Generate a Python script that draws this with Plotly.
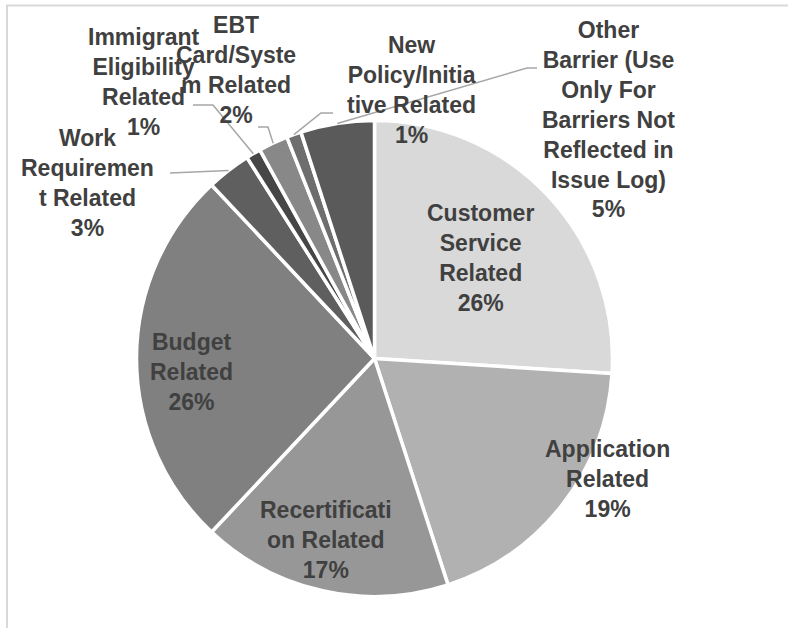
import math
import plotly.graph_objects as go

# Barrier categories (wrapped the way they are shown on the chart) and their shares
categories = [
    "Customer Service Related",
    "Application Related",
    "Recertification Related",
    "Budget Related",
    "Work Requirement Related",
    "Immigrant Eligibility Related",
    "EBT Card/System Related",
    "New Policy/Initiative Related",
    "Other Barrier (Use Only For Barriers Not Reflected in Issue Log)",
]
wrapped_labels = [
    "Customer<br>Service<br>Related",
    "Application<br>Related",
    "Recertificati<br>on Related",
    "Budget<br>Related",
    "Work<br>Requiremen<br>t Related",
    "Immigrant<br>Eligibility<br>Related",
    "EBT<br>Card/Syste<br>m Related",
    "New<br>Policy/Initia<br>tive Related",
    "Other<br>Barrier (Use<br>Only For<br>Barriers Not<br>Reflected in<br>Issue Log)",
]
shares = [26, 19, 17, 26, 3, 1, 2, 1, 5]

slice_colors = ["#d9d9d9", "#b1b1b1", "#979797", "#808080", "#5f5f5f",
                "#464646", "#888888", "#6e6e6e", "#5a5a5a"]

W, H = 788, 628
CX, CY, R = 374.5, 358.5, 238.0  # pie centre and radius in page pixels


def px(x):
    return x / W


def py(y):
    return 1 - y / H


# label block centres (page pixels)
label_pos = [(480, 258), (607, 479), (326, 540), (191, 372), (87, 183),
             (144, 82), (236, 70), (411, 90), (608, 120)]
# leader line bends for the small outside slices: list of points after the slice edge
leaders = {
    4: [(170, 173)],
    5: [(213, 105), (193, 105)],
    6: [(268, 127), (258, 127)],
    7: [(321, 113), (333, 113)],
    8: [(527, 68), (537, 68)],
}

fig = go.Figure(go.Pie(
    labels=categories,
    values=shares,
    sort=False,
    direction="clockwise",
    rotation=0,
    textinfo="none",
    hoverinfo="label+percent",
    marker=dict(colors=slice_colors, line=dict(color="white", width=3.5)),
    domain=dict(x=[px(CX - R), px(CX + R)], y=[py(CY + R), py(CY - R)]),
    showlegend=False,
))

total = sum(shares)
annotations = []
shapes = []

# chart frame
shapes.append(dict(type="rect", xref="paper", yref="paper",
                   x0=px(7), x1=px(W + 20), y0=py(H + 20), y1=py(5.5),
                   line=dict(color="#d9d9d9", width=2), fillcolor="rgba(0,0,0,0)"))

cum = 0
for i, (lab, v) in enumerate(zip(wrapped_labels, shares)):
    pct = v / total * 100
    mid = (cum + v / 2) / total * 2 * math.pi
    cum += v
    lx, ly = label_pos[i]
    annotations.append(dict(
        x=px(lx), y=py(ly), xref="paper", yref="paper",
        text=f"{lab}<br>{pct:.0f}%", showarrow=False,
        xanchor="center", yanchor="middle", align="center",
        font=dict(family="Liberation Sans, Arial, sans-serif", size=23,
                  color="#404040", weight="bold"),
    ))
    if i in leaders:
        ex = CX + R * math.sin(mid)
        ey = CY - R * math.cos(mid)
        pts = [(ex, ey)] + leaders[i]
        path = "M " + " L ".join(f"{px(x):.5f},{py(y):.5f}" for x, y in pts)
        shapes.append(dict(type="path", xref="paper", yref="paper", path=path,
                           line=dict(color="#a6a6a6", width=1.5)))

fig.update_layout(
    width=W, height=H,
    margin=dict(l=0, r=0, t=0, b=0),
    paper_bgcolor="white",
    plot_bgcolor="white",
    annotations=annotations,
    shapes=shapes,
)

fig.write_html("out.html")
